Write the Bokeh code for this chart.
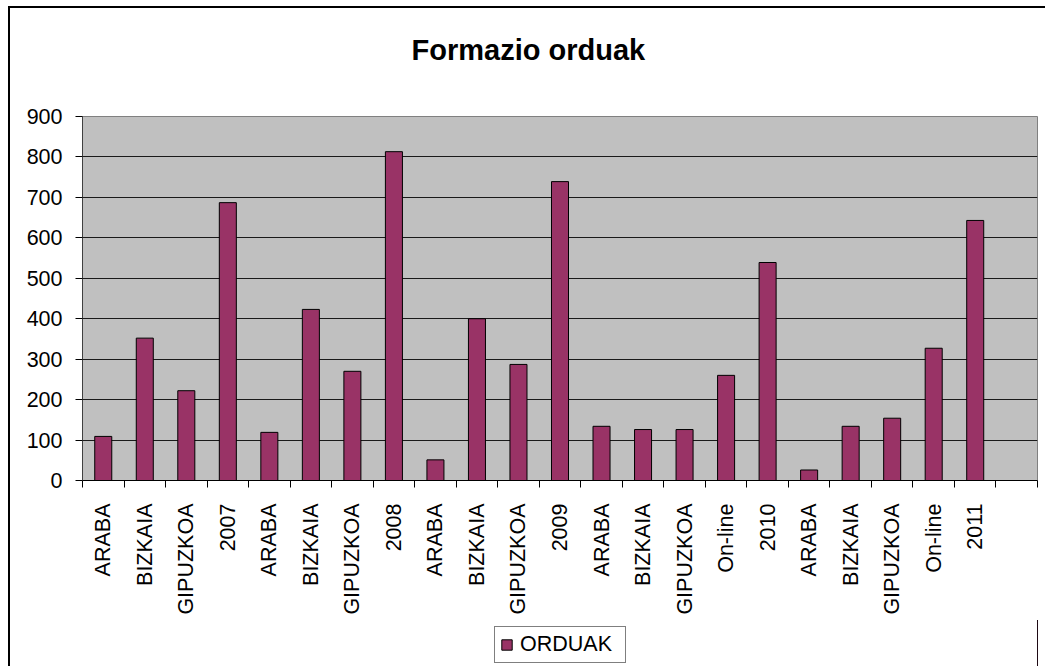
from bokeh.plotting import figure
from bokeh.layouts import column
from bokeh.models import Range1d, FixedTicker, Legend, LegendItem, Title
from bokeh.embed import file_html
from bokeh.resources import INLINE

# ---- data ----
categories = ["ARABA", "BIZKAIA", "GIPUZKOA", "2007",
              "ARABA", "BIZKAIA", "GIPUZKOA", "2008",
              "ARABA", "BIZKAIA", "GIPUZKOA", "2009",
              "ARABA", "BIZKAIA", "GIPUZKOA", "On-line", "2010",
              "ARABA", "BIZKAIA", "GIPUZKOA", "On-line", "2011"]
orduak = [109, 352, 222, 687,
          119, 423, 270, 813,
          51, 400, 287, 739,
          134, 126, 126, 260, 539,
          26, 134, 154, 327, 643]
y_ticks = [0, 100, 200, 300, 400, 500, 600, 700, 800, 900]
series_name = "ORDUAK"
title_text = "Formazio orduak"

n_slots = len(categories) + 1  # one empty slot at the end
xs = list(range(1, len(categories) + 1))

FONT = "Liberation Sans"
BAR_FILL = "#993366"

p = figure(width=1035, height=612,
           output_backend="svg", toolbar_location=None,
           title=None,
           x_range=Range1d(0.5, n_slots + 0.5), y_range=Range1d(0, 900),
           min_border_left=72, min_border_right=8, min_border_top=108,
           min_border_bottom=140)

p.background_fill_color = "#C0C0C0"
p.border_fill_color = "#FFFFFF"
p.outline_line_color = "#808080"
p.outline_line_width = 1

r = p.vbar(x=xs, top=orduak, width=0.41, bottom=0,
           fill_color=BAR_FILL, line_color="#000000", line_width=1)

# title (spacer panel first, nearest to the frame, then the real title)
spacer = Title(text=" ", text_font_size="10px", standoff=38, text_color="#FFFFFF")
p.add_layout(spacer, "above")
main_title = Title(text=title_text, align="left", offset=329, standoff=0,
                   text_font=FONT, text_font_size="29px", text_font_style="bold",
                   text_color="#000000")
p.add_layout(main_title, "above")

# y axis
p.yaxis.ticker = FixedTicker(ticks=y_ticks)
p.yaxis.axis_line_color = "#404040"
p.yaxis.major_tick_line_color = "#000000"
p.yaxis.major_tick_out = 7
p.yaxis.major_tick_in = 0
p.yaxis.minor_tick_line_color = None
p.yaxis.major_label_standoff = 13
p.yaxis.major_label_text_font = FONT
p.yaxis.major_label_text_font_size = "21.5px"
p.yaxis.major_label_text_color = "#000000"

# x axis
boundaries = [i + 0.5 for i in range(0, n_slots + 1)]
p.xaxis.ticker = FixedTicker(ticks=xs, minor_ticks=boundaries)
p.xaxis.major_label_overrides = {x: c for x, c in zip(xs, categories)}
p.xaxis.major_label_orientation = 3.14159265 / 2
p.xaxis.axis_line_color = "#000000"
p.xaxis.major_tick_out = 0
p.xaxis.major_tick_in = 0
p.xaxis.minor_tick_out = 7
p.xaxis.minor_tick_in = 0
p.xaxis.minor_tick_line_color = "#000000"
p.xaxis.major_label_standoff = 16
p.xaxis.major_label_text_font = FONT
p.xaxis.major_label_text_font_size = "21.5px"
p.xaxis.major_label_text_color = "#000000"

# grid
p.xgrid.grid_line_color = None
p.ygrid.ticker = FixedTicker(ticks=y_ticks)
p.ygrid.grid_line_color = "#1a1a1a"
p.ygrid.grid_line_width = 1

# legend strip (separate small figure holding only the legend; its frame is
# aligned with the main frame by the column layout)
p2 = figure(width=1035, height=46, output_backend="svg", toolbar_location=None,
            title=None, x_axis_type=None, y_axis_type=None,
            x_range=Range1d(-2, -1), y_range=Range1d(0, 1),
            min_border=0, min_border_left=0, min_border_right=0,
            min_border_top=0, min_border_bottom=0)
p2.outline_line_color = None
p2.background_fill_color = "#FFFFFF"
p2.border_fill_color = "#FFFFFF"
p2.grid.visible = False
# same series, drawn out of this strip's visible range: only its legend entry shows
r2 = p2.vbar(x=xs, top=orduak, width=0.41, bottom=0,
             fill_color=BAR_FILL, line_color="#000000", line_width=1)
legend = Legend(items=[LegendItem(label=series_name, renderers=[r2])],
                location=(412, 3), orientation="horizontal",
                border_line_color="#000000", border_line_width=1,
                background_fill_color="#FFFFFF", background_fill_alpha=1,
                padding=5, margin=0, glyph_width=13, glyph_height=13,
                label_standoff=7, label_text_font=FONT,
                label_text_font_size="21.5px", label_text_color="#000000",
                label_height=19, label_width=100)
p2.add_layout(legend, "center")

layout = column(p, p2, spacing=0)
layout.styles = {"margin-left": "8px", "margin-top": "6px",
                 "border-left": "2px solid #000000", "border-top": "2px solid #000000"}

open("out.html", "w").write(file_html(layout, INLINE))
